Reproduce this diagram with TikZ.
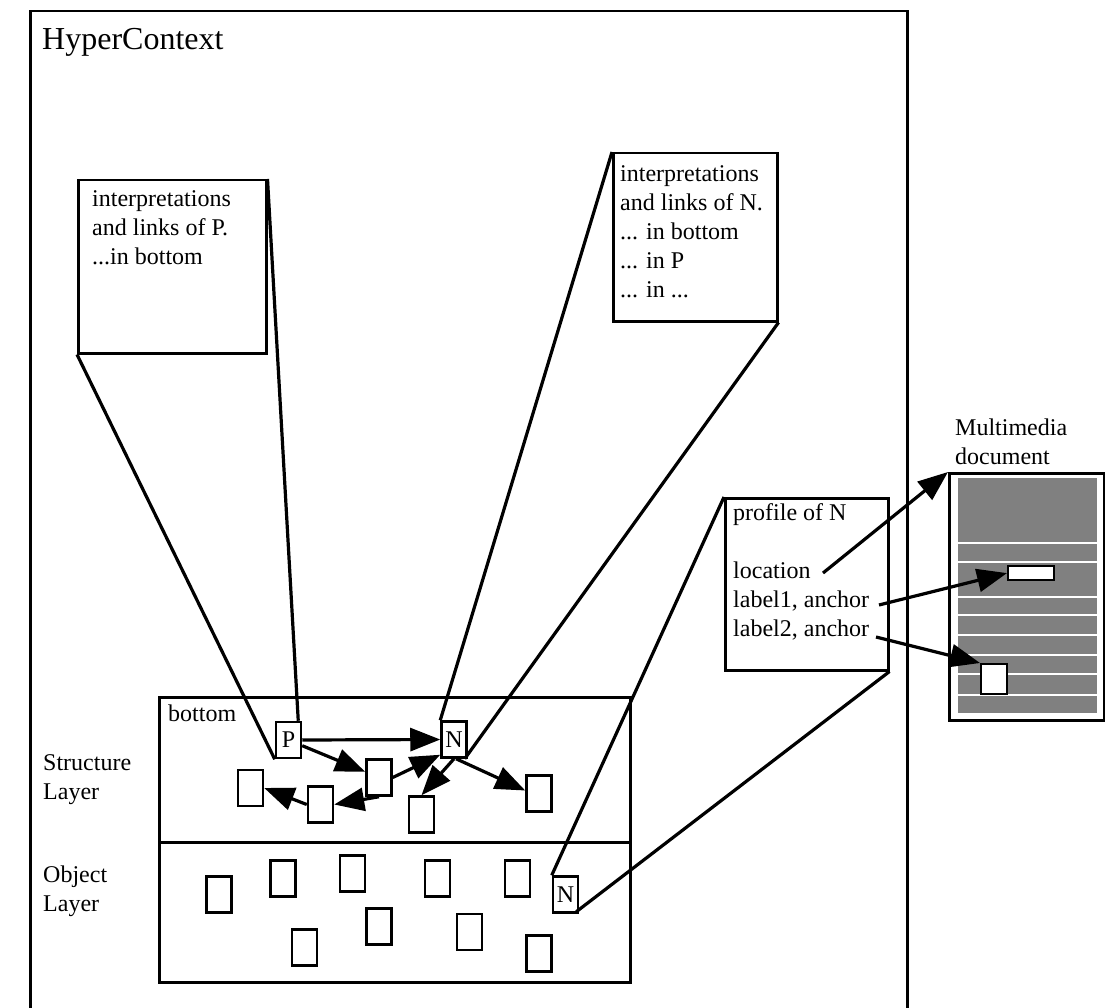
\documentclass[tikz,border=0pt]{standalone}
\usepackage{fontspec}
\setmainfont{Liberation Serif}
\usetikzlibrary{arrows.meta,calc}
\definecolor{docgray}{HTML}{808080}
\begin{document}
\begin{tikzpicture}[x=1pt,y=-1pt,
  txt/.style={font=\fontsize{24}{29}\selectfont, inner sep=0pt, align=left},
  frame/.style={draw, line width=2.5pt, inner sep=0pt, anchor=north west},
  sbox/.style={draw, line width=2.5pt, inner sep=0pt, minimum width=25pt, minimum height=36pt, font=\fontsize{24}{29}\selectfont},
  link/.style={line width=3.2pt},
  arr/.style={line width=3.2pt, -{Triangle[length=30pt,width=23pt]}},
  sep/.style={white, line width=2pt},
]
\useasboundingbox (0,0) rectangle (1105,1008);

% outer HyperContext frame
\node[frame, minimum width=877pt, minimum height=1004pt] (hc) at (29,10) {};
\node[txt, anchor=base west, font=\fontsize{32}{38}\selectfont] (hctitle) at (42,50) {HyperContext};

% text boxes
\node[frame, minimum width=188pt, minimum height=173pt] (ip) at (77,179) {};
\node[txt, anchor=north west] (iptext) at (92,190.5) {interpretations\\and links of P.\\...in bottom};
\node[frame, minimum width=164pt, minimum height=168pt] (inN) at (612,152) {};
\node[txt, anchor=north west] (intext) at (620,165.5) {interpretations\\and links of N.\\... in bottom\\... in P\\... in ...};
\node[frame, minimum width=163pt, minimum height=172pt] (prof) at (724,497) {};
\node[txt, anchor=north west] (proftext) at (733,503.5) {profile of N\\[29pt]location\\label1, anchor\\label2, anchor};

% bottom layers
\node[frame, minimum width=471pt, minimum height=145pt] (struct) at (158,696) {};
\node[frame, minimum width=471pt, minimum height=140pt] (obj) at (158,841) {};
\node[txt, anchor=base west] (bottomlbl) at (168,721) {bottom};
\node[txt, anchor=north west] (structlbl) at (43,754) {Structure\\Layer};
\node[txt, anchor=north west] (objlbl) at (43,865.5) {Object\\Layer};

% structure layer nodes
\node[sbox] (P) at (288.5,740) {P};
\node[sbox] (N) at (454,739.5) {N};
\node[sbox] (a) at (379,777.5) {};
\node[sbox] (b) at (250.5,788) {};
\node[sbox] (c) at (320.5,804.5) {};
\node[sbox] (d) at (421.5,814.5) {};
\node[sbox] (e) at (539,793.5) {};

% object layer nodes
\node[sbox] (o1) at (219,894.5) {};
\node[sbox] (o2) at (283,878.5) {};
\node[sbox] (o3) at (352.5,873.5) {};
\node[sbox] (o4) at (437.5,878.5) {};
\node[sbox] (o5) at (517.5,878.5) {};
\node[sbox] (N2) at (565.5,894.5) {N};
\node[sbox] (o6) at (304.5,947.5) {};
\node[sbox] (o7) at (379,926.5) {};
\node[sbox] (o8) at (469.5,932) {};
\node[sbox] (o9) at (539,953.5) {};

% multimedia document
\node[txt, anchor=north west] (mmlbl) at (955,418.5) {Multimedia\\document};
\node[frame, minimum width=155pt, minimum height=247pt] (doc) at (948,472) {};
\fill[docgray] (958,478) rectangle (1097,713);
\foreach \yy in {543,562,597,615,635,655,674,695}
  \draw[sep] (958,\yy) -- (1097,\yy);
\node[frame, fill=white, line width=2.2pt, minimum width=46pt, minimum height=14pt] (r1) at (1007,565) {};
\node[frame, fill=white, line width=2.2pt, minimum width=26pt, minimum height=30pt] (r2) at (980,663) {};

% projection lines
\draw[link] (ip.south west) -- (P.south west);
\draw[link] (ip.north east) -- ([xshift=-4pt]P.north east);
\draw[link] (inN.north west) -- (N.north west);
\draw[link] (inN.south east) -- ([xshift=-3pt]N.south east);
\draw[link] (prof.north west) -- (N2.north west);
\draw[link] (prof.south east) -- ([xshift=-3pt,yshift=2pt]N2.south east);

% structure arrows
\draw[arr] (P.east) -- (N.west);
\draw[arr] (P) -- (a);
\draw[arr] (a.east) -- ([yshift=4pt]N.south west);
\draw[arr] (a.south) -- (c.east);
\draw[arr] (c.west) -- (b.east);
\draw[arr] (N.south) -- (d.north);
\draw[arr] ([xshift=2pt]N.south) -- ([yshift=3pt]e.west);

% profile arrows
\coordinate (locpt) at (823,573);
\coordinate (l1pt) at (879,605);
\coordinate (l2pt) at (876,637);
\draw[arr] (locpt) -- (doc.north west);
\draw[arr] (l1pt) -- (r1.west);
\draw[arr] (l2pt) -- (r2.north west);
\end{tikzpicture}
\end{document}
